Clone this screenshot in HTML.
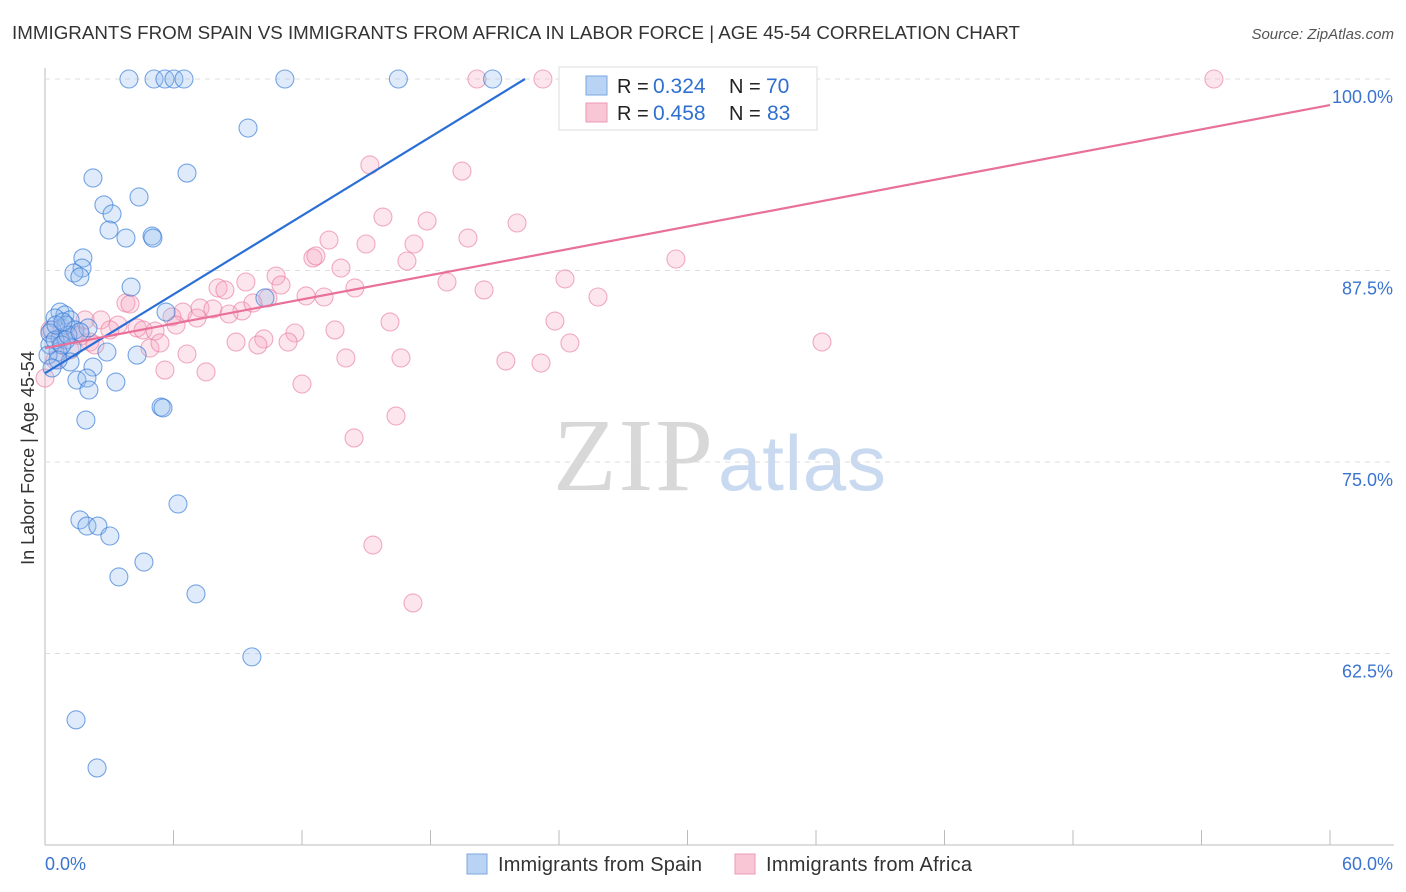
<!DOCTYPE html>
<html><head><meta charset="utf-8"><style>
body{margin:0;background:#fff;font-family:"Liberation Sans",sans-serif;}
#wrap{position:relative;width:1406px;height:892px;overflow:hidden;}
</style></head><body>
<div id="wrap">
<svg id="svg" width="1406" height="892" xmlns="http://www.w3.org/2000/svg">
<text x="12" y="39" font-size="18" fill="#333" textLength="1008" lengthAdjust="spacingAndGlyphs">IMMIGRANTS FROM SPAIN VS IMMIGRANTS FROM AFRICA IN LABOR FORCE | AGE 45-54 CORRELATION CHART</text>
<text x="1394" y="39" font-size="15" fill="#555" font-style="italic" text-anchor="end">Source: ZipAtlas.com</text>
<text x="34" y="458" font-size="18" fill="#333" text-anchor="middle" transform="rotate(-90 34 458)">In Labor Force | Age 45-54</text>
<text x="553" y="490" font-size="104" fill="#d8d8d8" font-family="Liberation Serif" textLength="160">ZIP</text>
<text x="718" y="490" font-size="78" fill="#c8d9f0" textLength="168">atlas</text>
<g id="grid"></g><g id="pts"></g><g id="lines"></g>
<g>
<rect x="559" y="67" width="258" height="63" fill="#fff" stroke="#ddd"/>
<rect x="586" y="76" width="21" height="19" fill="#b9d3f5" stroke="#7aa7e0"/>
<rect x="586" y="103" width="21" height="19" fill="#f9c6d6" stroke="#ec9ab4"/>
<text x="617" y="93" font-size="20" fill="#222">R =</text><text x="653" y="93" font-size="21" fill="#2f6fd0">0.324</text>
<text x="729" y="93" font-size="20" fill="#222">N =</text><text x="766" y="93" font-size="21" fill="#2f6fd0">70</text>
<text x="617" y="120" font-size="20" fill="#222">R =</text><text x="653" y="120" font-size="21" fill="#2f6fd0">0.458</text>
<text x="729" y="120" font-size="20" fill="#222">N =</text><text x="767" y="120" font-size="21" fill="#2f6fd0">83</text>
</g>
<g>
<rect x="467" y="854" width="20" height="20" fill="#b9d3f5" stroke="#7aa7e0"/>
<text x="498" y="871" font-size="20" fill="#333" textLength="204">Immigrants from Spain</text>
<rect x="735" y="854" width="20" height="20" fill="#f9c6d6" stroke="#ec9ab4"/>
<text x="766" y="871" font-size="20" fill="#333" textLength="206">Immigrants from Africa</text>
</g>
</svg>
</div>
<script>
const xTicks=[0,6,12,18,24,30,36,42,48,54,60];
const yTicks=[100,87.5,75,62.5];
const yTickLabels=["100.0%","87.5%","75.0%","62.5%"];
const spainX=[3.92,5.09,5.6,6.02,6.49,11.2,16.5,20.9,9.48,6.63,2.24,4.39,2.75,3.13,2.99,3.78,5.0,5.04,1.77,1.73,1.35,1.63,4.02,10.27,5.65,0.7,0.93,0.47,1.17,0.98,0.33,1.4,2.01,0.7,0.98,0.23,1.26,0.61,2.89,4.3,2.24,1.17,1.49,1.96,3.31,2.05,5.42,5.51,1.91,6.21,1.63,1.96,2.47,3.03,4.62,3.45,7.05,9.66,1.45,2.43,0.23,0.47,0.14,0.79,1.07,1.63,0.51,0.84,0.61,0.33];
const spainY=[100,100,100,100,100,100,100,100,96.8,93.86,93.54,92.3,91.78,91.19,90.14,89.62,89.75,89.62,88.32,87.66,87.34,87.08,86.42,85.71,84.79,84.79,84.6,84.4,84.27,83.94,83.62,83.62,83.75,83.1,82.96,82.64,82.44,82.18,82.18,81.98,81.2,81.53,80.35,80.48,80.22,79.7,78.59,78.53,77.74,72.26,71.22,70.82,70.82,70.17,68.47,67.5,66.39,62.28,58.17,55.03,83.42,82.96,81.98,82.64,83.29,83.49,83.94,84.14,81.66,81.14];
const africaX=[20.17,23.25,34.22,54.58,15.17,19.47,15.78,17.84,22.04,13.26,19.75,14.99,17.23,12.51,12.65,16.9,29.46,13.82,10.79,9.38,8.08,8.4,11.02,18.77,24.28,14.47,20.5,25.82,12.19,13.03,3.78,3.97,10.41,7.24,7.84,6.44,9.2,5.93,7.1,8.59,9.71,16.11,23.81,2.61,3.41,4.3,4.58,5.14,6.12,11.67,13.54,8.92,10.22,9.94,11.35,4.9,5.37,36.28,24.51,1.68,2.1,6.63,14.05,16.62,21.52,23.16,5.6,7.52,12.0,16.39,14.43,15.31,17.18,0,0.23,0.7,1.17,0.47,1.87,3.03,2.33,0.79,1.4];
const africaY=[100,100,100,100,94.39,93.99,90.99,90.73,90.6,89.49,89.62,89.23,89.23,88.32,88.45,88.12,88.25,87.66,87.14,86.75,86.36,86.23,86.55,86.75,86.95,86.36,86.23,85.77,85.84,85.77,85.38,85.31,85.71,85.05,84.99,84.79,84.86,84.47,84.4,84.66,85.38,84.14,84.2,84.27,83.94,83.75,83.62,83.55,83.94,83.42,83.62,82.83,83.03,82.64,82.83,82.44,82.77,82.83,82.77,83.23,82.83,82.05,81.79,81.79,81.59,81.46,81.0,80.88,80.09,78.0,76.57,69.58,65.8,80.48,83.62,82.96,82.31,81.66,84.27,83.62,82.64,83.75,83.29];
const spainTrend=[[0,80.8],[22.41,100]];
const africaTrend=[[0,82.44],[60,98.3]];
const NS="http://www.w3.org/2000/svg";
const X=v=>45+v/60*1285, Y=v=>79+(100-v)*15.32;
function mk(tag,attrs,parent){const e=document.createElementNS(NS,tag);for(const k in attrs)e.setAttribute(k,attrs[k]);document.getElementById(parent).appendChild(e);return e;}
let e;
e=mk('line',{x1:45,y1:845,x2:1394,y2:845,stroke:'#bbb'},'grid');


e=mk('line',{x1:45,y1:68,x2:45,y2:845,stroke:'#bbb'},'grid');


xTicks.forEach(t=>{e=mk('line',{x1:X(t),y1:830,x2:X(t),y2:845,stroke:'#bbb'},'grid');

});
yTicks.forEach((t,i)=>{e=mk('line',{x1:45,y1:Y(t),x2:1394,y2:Y(t),stroke:'#ddd','stroke-dasharray':'5,5'},'grid');


e=mk('text',{x:1393,y:Y(t)+24,'font-size':18,fill:'#3a74d0','text-anchor':'end'},'grid');e.textContent=yTickLabels[i];

});
e=mk('text',{x:45,y:870,'font-size':18,fill:'#3a74d0'},'grid');e.textContent='0.0%';


e=mk('text',{x:1393,y:870,'font-size':18,fill:'#3a74d0','text-anchor':'end'},'grid');e.textContent='60.0%';


africaX.forEach((x,i)=>{e=mk('circle',{cx:X(x),cy:Y(africaY[i]),r:9,fill:'rgba(247,170,195,0.3)',stroke:'rgba(232,120,155,0.6)','stroke-width':1.1},'pts');

});
spainX.forEach((x,i)=>{e=mk('circle',{cx:X(x),cy:Y(spainY[i]),r:9,fill:'rgba(150,190,240,0.3)',stroke:'rgba(50,120,215,0.65)','stroke-width':1.1},'pts');

});
e=mk('line',{x1:X(spainTrend[0][0]),y1:Y(spainTrend[0][1]),x2:X(spainTrend[1][0]),y2:Y(spainTrend[1][1]),stroke:'#2a6fd6','stroke-width':2.2},'lines');


e=mk('line',{x1:X(africaTrend[0][0]),y1:Y(africaTrend[0][1]),x2:X(africaTrend[1][0]),y2:Y(africaTrend[1][1]),stroke:'#e8709a','stroke-width':2.2},'lines');


</script>
</body></html>
